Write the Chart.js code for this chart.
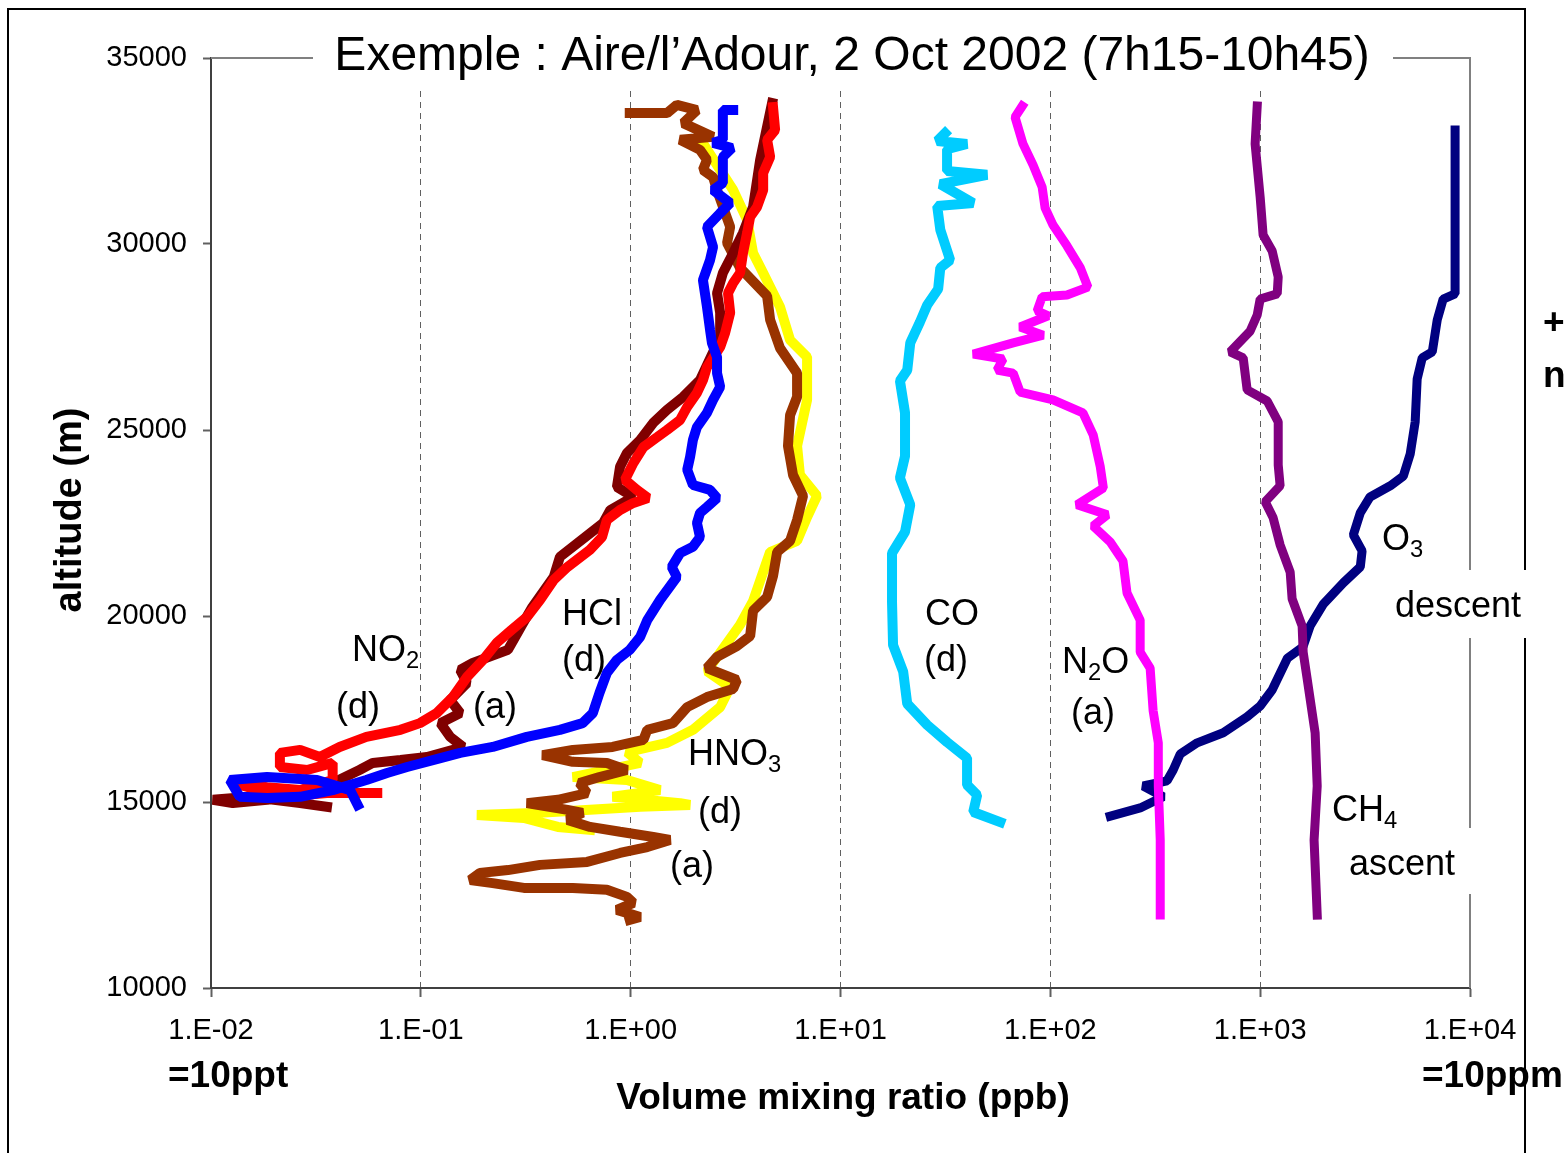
<!DOCTYPE html>
<html>
<head>
<meta charset="utf-8">
<script src="https://cdn.jsdelivr.net/npm/chart.js@4.4.0/dist/chart.umd.min.js"></script>
<style>
  html, body { margin: 0; padding: 0; background: #fff; }
  canvas { display: block; }
</style>
</head>
<body>
<canvas id="profiles" width="1565" height="1153"></canvas>
<script>
const FONT = "'Liberation Sans', Arial, sans-serif";
const TITLE = 'Exemple : Aire/l\u2019Adour, 2 Oct 2002 (7h15-10h45)';

// axis ticks
const decades = [1e-2, 1e-1, 1e0, 1e1, 1e2, 1e3, 1e4];
const altTicks = [10000, 15000, 20000, 25000, 30000, 35000];

// ---- profiles : volume mixing ratio (ppb) vs altitude (m), top -> bottom ----
const hclVmr = [3.08, 2.75, 2.75, 2.47, 3.04, 2.75, 2.75, 2.47, 2.98, 2.67, 2.31, 2.47, 2.39, 2.21, 2.31, 2.39, 2.44, 2.58, 2.58, 2.67,
  2.47, 2.31, 2.07, 1.98, 1.92, 1.86, 1.98, 2.39, 2.58, 2.31, 2.14, 2.07, 2.14, 1.98, 1.72, 1.57, 1.66, 1.38, 1.20, 1.11,
  0.99, 0.86, 0.77, 0.71, 0.66, 0.59, 0.46, 0.32, 0.22, 0.154, 0.124, 0.086, 0.069, 0.055, 0.038, 0.0266, 0.0185, 0.0137, 0.0123, 0.0185,
  0.032, 0.046, 0.050];
const hclAlt = [33600, 33600, 32800, 32720, 32580, 32340, 31640, 31450, 31100, 30830, 30460, 29920, 29570, 29030, 28310, 27690, 27340, 26960, 26530, 26160,
  25810, 25460, 25080, 24730, 24280, 23930, 23520, 23390, 23170, 22930, 22770, 22500, 22120, 21860, 21690, 21320, 21050, 20430, 19890, 19440,
  19090, 18820, 18470, 17930, 17390, 17120, 16940, 16750, 16480, 16320, 16180, 15940, 15780, 15590, 15320, 15140, 15110, 15140, 15590, 15670,
  15590, 15320, 14920];

const no2DescVmr = [4.77, 4.88, 4.47, 4.62, 4.28, 4.28, 4.00, 3.71, 3.59, 3.43, 3.32, 3.08, 2.91, 2.98, 2.82, 2.67, 2.31, 2.21, 2.07, 1.86,
  1.72, 1.49, 1.34, 1.15, 1.03, 0.94, 1.07, 1.21, 1.03, 0.89, 0.77, 0.73, 0.64, 0.50, 0.43, 0.37, 0.32, 0.27, 0.23, 0.198,
  0.166, 0.142, 0.119, 0.099, 0.080, 0.055, 0.041, 0.033, 0.0266, 0.0213, 0.0213, 0.0287, 0.038, 0.038, 0.0266, 0.0185, 0.0127, 0.022, 0.0357, 0.062];
const no2DescAlt = [33680, 33065, 32800, 32340, 31910, 31450, 30990, 30730, 30300, 29760, 29220, 28950, 28680, 28150, 27610, 27230, 26690, 26340, 26000, 25620,
  25270, 25000, 24810, 24540, 24110, 23660, 23390, 23170, 23040, 22850, 22580, 22120, 21780, 21320, 20970, 20430, 19970, 19620, 19280, 18820,
  18360, 17820, 17390, 17120, 16940, 16750, 16480, 16210, 16400, 16320, 15940, 15860, 16050, 15590, 15320, 15400, 15510, 15140, 15240, 15240];

const no2AscVmr = [4.72, 4.14, 3.83, 3.43, 3.08, 2.75, 2.58, 2.67, 2.67, 2.14, 1.78, 1.49, 1.28, 1.11, 0.96, 0.89, 0.86, 1.03, 0.80, 0.74,
  0.46, 0.43, 0.34, 0.30, 0.26, 0.177, 0.154, 0.166, 0.138, 0.154, 0.124, 0.138, 0.159, 0.107, 0.080, 0.059, 0.051, 0.038, 0.0266, 0.0185,
  0.0127, 0.0102, 0.0153, 0.0266, 0.0357];
const no2AscAlt = [33790, 32260, 30990, 30300, 29760, 29220, 28680, 28150, 27500, 26340, 25890, 25540, 25190, 24730, 24380, 24010, 23470, 23200, 22850, 22500,
  21590, 21050, 20240, 19710, 19090, 18740, 18550, 18200, 17740, 17390, 17120, 16750, 16480, 16210, 16130, 16050, 15860, 15510, 15240, 15060,
  14970, 15060, 15140, 14970, 14870];

const hno3AscVmr = [0.99, 1.49, 1.66, 2.07, 1.78, 2.47, 1.72, 2.14, 2.31, 2.21, 2.47, 2.58, 2.98, 2.88, 3.32, 4.47, 4.62, 5.15, 6.21, 6.21,
  5.75, 5.62, 5.94, 6.63, 6.21, 5.75, 4.99, 4.77, 4.47, 3.83, 3.71, 3.21, 2.58, 2.31, 3.21, 3.08, 2.31, 1.86, 1.59, 1.20,
  1.15, 0.82, 0.53, 0.38, 0.53, 0.77, 0.96, 0.71, 0.57, 0.62, 0.45, 0.32, 0.50, 0.59, 0.50, 0.64, 0.89, 1.28, 1.54, 1.20,
  0.89, 0.62, 0.37, 0.26, 0.191, 0.172, 0.22, 0.31, 0.53, 0.77, 0.96, 1.03, 0.86, 1.11, 0.99];
const hno3AscAlt = [33520, 33520, 33740, 33600, 33250, 32880, 32800, 32530, 32260, 31990, 31800, 31450, 30460, 30030, 29360, 28600, 27960, 27200, 26530, 25890,
  25400, 24570, 23790, 23230, 22580, 22020, 21720, 21080, 20510, 20140, 19460, 19190, 18900, 18600, 18280, 18040, 17820, 17550, 17120, 16940,
  16670, 16480, 16400, 16260, 16080, 16050, 15860, 15670, 15510, 15240, 15060, 14970, 14790, 14710, 14520, 14330, 14200, 14060, 13980, 13790,
  13630, 13390, 13310, 13170, 13090, 12900, 12820, 12690, 12690, 12640, 12450, 12290, 12100, 11910, 11830];

const hno3DescVmr = [2.19, 3.08, 3.59, 3.83, 4.28, 5.15, 5.75, 6.93, 6.93, 6.21, 6.41, 7.73, 6.93, 6.21, 4.62, 3.83, 3.32, 2.31, 2.98, 2.67,
  1.98, 1.49, 0.96, 1.11, 0.53, 0.96, 1.38, 0.82, 1.72, 1.92, 1.11, 0.64, 0.37, 0.185, 0.31, 0.45, 0.64];
const hno3DescAlt = [32740, 31450, 30650, 29760, 29220, 28310, 27420, 26960, 25810, 24570, 23790, 23230, 22660, 22020, 21720, 20400, 19760, 18520, 18090, 17550,
  16940, 16590, 16340, 16050, 15670, 15590, 15320, 15140, 14970, 14920, 14870, 14790, 14710, 14650, 14570, 14330, 14250];

const coVmr = [31.5, 28.9, 40.1, 32.2, 32.2, 50.0, 29.9, 42.9, 28.9, 29.9, 33.3, 29.9, 29.2, 25.9, 23.9, 21.5, 20.8, 19.2, 20.3, 20.3,
  19.2, 21.5, 20.3, 17.6, 17.6, 17.8, 19.9, 20.8, 25.9, 32.2, 40.1, 40.1, 44.8, 42.9, 57.7];
const coAlt = [32980, 32770, 32690, 32550, 31960, 31860, 31610, 31100, 31020, 30380, 29570, 29360, 28790, 28360, 27900, 27340, 26610, 26320, 25460, 24300,
  23710, 22990, 22260, 21690, 20380, 19220, 18500, 17640, 17070, 16610, 16180, 15460, 15190, 14730, 14460];

const n2oVmr = [73.5, 67.9, 74.1, 82.8, 91.4, 94.4, 103, 120, 139, 151, 120, 91.4, 86.5, 97.7, 71.8, 92.5, 66.5, 42.9, 59.6, 55.7,
  66.5, 71.8, 103, 143, 160, 173, 179, 134, 187, 160, 193, 222, 232, 268, 268, 299, 309, 327, 327, 334, 334];
const n2oAlt = [33710, 33410, 32690, 32120, 31530, 30970, 30510, 29950, 29360, 28840, 28630, 28580, 28200, 28070, 27770, 27550, 27340, 27040, 26910, 26610,
  26530, 26020, 25810, 25460, 24870, 24010, 23440, 22990, 22720, 22420, 21990, 21480, 20620, 19890, 19030, 18600, 17450, 16590, 15430, 13980, 11960];

const ch4Vmr = [968, 946, 1000, 1033, 1141, 1219, 1206, 1000, 968, 896, 720, 830, 867, 1080, 1219, 1219, 1245, 1057, 1153, 1245,
  1390, 1420, 1585, 1603, 1675, 1828, 1870, 1807, 1870];
const ch4Alt = [33710, 32690, 31260, 30240, 29810, 29110, 28660, 28520, 28090, 27660, 27100, 26940, 26080, 25780, 25220, 24060, 23500, 23070, 22640, 21910,
  21180, 20460, 19730, 19030, 18310, 16860, 15430, 13980, 11960];

const o3Vmr = [8490, 8490, 7450, 6980, 6610, 5920, 5600, 5480, 5190, 4810, 4170, 3340, 3000, 2780, 3060, 3000, 2490, 2000, 1730, 1600,
  1350, 1140, 1000, 867, 667, 501, 416, 385, 360, 277, 345, 268, 193];
const o3Alt = [33065, 28660, 28520, 27960, 27100, 26940, 26370, 25220, 24360, 23760, 23500, 23200, 22770, 22180, 21750, 21320, 20890, 20320, 19730, 19170,
  18870, 18010, 17580, 17290, 16860, 16590, 16290, 15860, 15570, 15430, 15140, 14840, 14620];

// curve labels: [pieces, x, baseline, align]; a piece flagged 1 is a subscript
const curveLabels = [
  [[['NO', 0], ['2', 1]], 352, 661, 'left'],
  [[['(d)', 0]], 358, 718, 'center'],
  [[['(a)', 0]], 495, 718, 'center'],
  [[['HCl', 0]], 562, 625, 'left'],
  [[['(d)', 0]], 584, 671, 'center'],
  [[['HNO', 0], ['3', 1]], 688, 765, 'left'],
  [[['(d)', 0]], 720, 823, 'center'],
  [[['(a)', 0]], 692, 877, 'center'],
  [[['CO', 0]], 952, 625, 'center'],
  [[['(d)', 0]], 946, 671, 'center'],
  [[['N', 0], ['2', 1], ['O', 0]], 1062, 673, 'left'],
  [[['(a)', 0]], 1093, 724, 'center'],
  [[['O', 0], ['3', 1]], 1382, 550, 'left'],
  [[['CH', 0], ['4', 1]], 1332, 821, 'left']
];

function profile(vmr, alt) {
  return vmr.map((v, i) => ({ x: v, y: alt[i] }));
}

function sciLabel(v) {
  const e = Math.round(Math.log10(v));
  return '1.E' + (e < 0 ? '-' : '+') + String(Math.abs(e)).padStart(2, '0');
}

function series(label, vmr, alt, color, width) {
  return {
    label,
    data: profile(vmr, alt),
    showLine: true,
    borderColor: color,
    backgroundColor: color,
    borderWidth: width,
    borderJoinStyle: 'bevel',
    borderCapStyle: 'square',
    pointRadius: 0,
    tension: 0
  };
}

function drawChem(ctx, pieces, x, y, align, size) {
  const sub = size * 0.66;
  let w = 0;
  pieces.forEach(([t, s]) => {
    ctx.font = `${s ? sub : size}px ${FONT}`;
    w += ctx.measureText(t).width;
  });
  let cx = align === 'center' ? x - w / 2 : x;
  ctx.textAlign = 'left';
  pieces.forEach(([t, s]) => {
    ctx.font = `${s ? sub : size}px ${FONT}`;
    ctx.fillText(t, cx, s ? y + size * 0.2 : y);
    cx += ctx.measureText(t).width;
  });
}

const decor = {
  id: 'decor',
  beforeDraw(chart) {
    const ctx = chart.ctx;
    ctx.save();
    ctx.fillStyle = '#fff';
    ctx.fillRect(0, 0, chart.width, chart.height);
    ctx.strokeStyle = '#000';
    ctx.lineWidth = 2;
    ctx.strokeRect(8, 9, 1517, 1200);
    ctx.restore();
  },
  beforeDatasetsDraw(chart) {
    const { ctx, chartArea: a } = chart;
    ctx.save();
    // top and right frame of the plot
    ctx.strokeStyle = '#808080';
    ctx.lineWidth = 2;
    ctx.beginPath();
    ctx.moveTo(a.left, a.top);
    ctx.lineTo(a.right, a.top);
    ctx.lineTo(a.right, a.bottom);
    ctx.stroke();
    // title sits on its own white panel
    ctx.fillStyle = '#fff';
    ctx.fillRect(313, 20, 1080, 70);
    ctx.fillStyle = '#000';
    ctx.font = `48px ${FONT}`;
    ctx.textAlign = 'center';
    ctx.textBaseline = 'alphabetic';
    ctx.fillText(TITLE, 852, 70);
    ctx.restore();
  },
  afterDraw(chart) {
    const ctx = chart.ctx;
    ctx.save();
    ctx.textBaseline = 'alphabetic';
    ctx.fillStyle = '#000';
    curveLabels.forEach(([pieces, x, y, align]) => drawChem(ctx, pieces, x, y, align, 36));

    // descent / ascent tags break the right frame
    ctx.fillStyle = '#fff';
    ctx.fillRect(1385, 570, 146, 68);
    ctx.fillRect(1340, 828, 135, 66);
    ctx.fillStyle = '#000';
    ctx.font = `36px ${FONT}`;
    ctx.textAlign = 'center';
    ctx.fillText('descent', 1458, 617);
    ctx.fillText('ascent', 1402, 875);

    // axis titles and unit notes
    ctx.font = `bold 37px ${FONT}`;
    ctx.fillText('Volume mixing ratio (ppb)', 843, 1109);
    ctx.textAlign = 'left';
    ctx.fillText('=10ppt', 168, 1087);
    ctx.fillText('=10ppm', 1422, 1087);
    ctx.fillText('+', 1543, 334);
    ctx.fillText('n', 1543, 387);

    ctx.font = `bold 38px ${FONT}`;
    ctx.translate(81, 510);
    ctx.rotate(-Math.PI / 2);
    ctx.textAlign = 'center';
    ctx.fillText('altitude (m)', 0, 0);
    ctx.restore();
  }
};

const tickFont = { family: FONT, size: 29 };

new Chart(document.getElementById('profiles'), {
  type: 'scatter',
  data: {
    datasets: [
      series('HCl (d)', hclVmr, hclAlt, '#0000FF', 10),
      series('NO2 (d)', no2DescVmr, no2DescAlt, '#FF0000', 10),
      series('NO2 (a)', no2AscVmr, no2AscAlt, '#800000', 10),
      series('HNO3 (a)', hno3AscVmr, hno3AscAlt, '#993300', 10),
      series('HNO3 (d)', hno3DescVmr, hno3DescAlt, '#FFFF00', 10),
      series('CO (d)', coVmr, coAlt, '#00CCFF', 10),
      series('N2O (a)', n2oVmr, n2oAlt, '#FF00FF', 9),
      series('CH4 ascent', ch4Vmr, ch4Alt, '#800080', 9),
      series('O3 descent', o3Vmr, o3Alt, '#000080', 9)
    ]
  },
  options: {
    responsive: false,
    animation: false,
    layout: { padding: { top: 58, right: 95, left: 0, bottom: 0 } },
    plugins: { legend: { display: false }, tooltip: { enabled: false } },
    scales: {
      x: {
        type: 'logarithmic',
        min: 0.01,
        max: 10000,
        afterBuildTicks: s => { s.ticks = decades.map(v => ({ value: v })); },
        afterFit: s => { s.height = 165; },
        ticks: { callback: v => sciLabel(v), color: '#000', font: tickFont, padding: 17, maxRotation: 0, autoSkip: false },
        grid: {
          color: c => (c.index === 0 || c.index === decades.length - 1) ? 'rgba(0,0,0,0)' : '#606060',
          lineWidth: 1,
          tickLength: 9,
          tickColor: '#606060',
          tickWidth: 2
        },
        border: { color: '#404040', width: 2, dash: [6, 5] }
      },
      y: {
        type: 'linear',
        min: 10000,
        max: 35000,
        afterBuildTicks: s => { s.ticks = altTicks.map(v => ({ value: v })); },
        afterFit: s => { s.width = 211; },
        ticks: { callback: v => String(v), color: '#000', font: tickFont, padding: 16 },
        grid: { drawOnChartArea: false, tickLength: 8, tickColor: '#606060', tickWidth: 2 },
        border: { color: '#404040', width: 2 }
      }
    }
  },
  plugins: [decor]
});
</script>
</body>
</html>
